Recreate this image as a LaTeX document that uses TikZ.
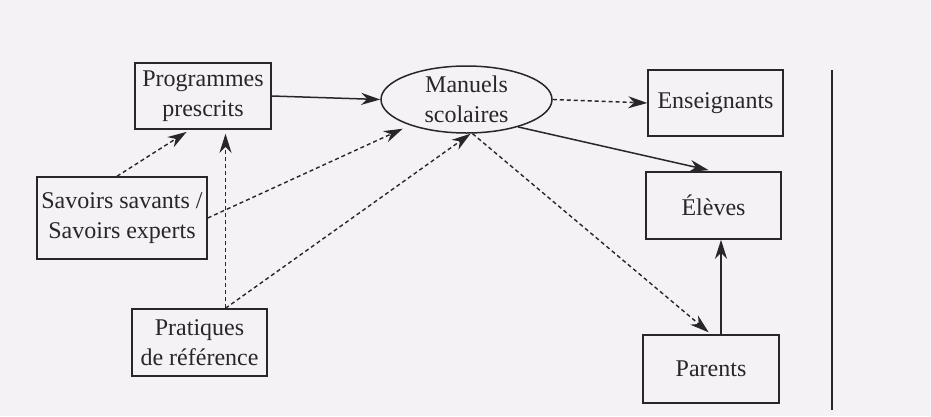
\documentclass[tikz,border=0pt]{standalone}
\usepackage{fontspec}
\setmainfont{Liberation Serif}
\usetikzlibrary{arrows.meta,shapes.geometric,calc}
\definecolor{paper}{RGB}{244,242,245}
\definecolor{ink}{RGB}{40,38,42}
\tikzset{
  boxnode/.style={draw=ink, line width=1.5pt, rectangle, align=center, inner sep=0pt,
    text=ink, font=\fontsize{24}{30}\selectfont},
  ellnode/.style={draw=ink, line width=1.5pt, ellipse, align=center, inner sep=0pt,
    text=ink, font=\fontsize{24}{30}\selectfont},
  solidarrow/.style={draw=ink, line width=1.5pt, -{Stealth[length=19pt,width=12pt,inset=6pt]}},
  dasharrow/.style={draw=ink, line width=1.4pt, dash pattern=on 4pt off 3pt,
    -{Stealth[length=19pt,width=12pt,inset=6pt]}},
}
\begin{document}
\begin{tikzpicture}[x=1pt,y=-1pt]
\fill[paper] (0,0) rectangle (931,416);
\useasboundingbox (0,0) rectangle (931,416);

\node[boxnode, minimum width=136pt, minimum height=66pt] (prog) at (203,96) {Programmes\\prescrits};
\node[boxnode, minimum width=170pt, minimum height=82pt] (sav) at (122,218) {Savoirs savants /\\Savoirs experts};
\node[boxnode, minimum width=135pt, minimum height=67pt] (prat) at (199.5,342.5) {Pratiques\\de référence};
\node[ellnode, minimum width=171pt, minimum height=67pt] (man) at (466.5,99.5) {Manuels\\scolaires};
\node[boxnode, minimum width=135pt, minimum height=66pt] (ens) at (715.5,103) {Enseignants};
\node[boxnode, minimum width=135pt, minimum height=67pt] (elev) at (713.5,205.5) {Élèves};
\node[boxnode, minimum width=136pt, minimum height=68pt] (par) at (711,369) {Parents};

\coordinate (vt) at (832,70);
\coordinate (vb) at (832,410);
\draw[ink, line width=1.3pt] (vt) -- (vb);

% solid arrows
\draw[solidarrow] (prog.east) -- (man.west);
\draw[solidarrow, shorten >=5pt] (man.-28) -- (elev.north);
\draw[solidarrow] ([xshift=10pt]par.north) -- ([xshift=10pt]par.north |- elev.south);

% dashed arrows
\draw[dasharrow] (man.east) -- (ens.west);
\draw[dasharrow, shorten >=3pt] (man.-80) -- (par.north);
\draw[dasharrow, shorten >=4pt] ([xshift=-5pt]sav.north) -- ([xshift=-13pt]prog.south);
\draw[dasharrow, shorten >=8pt] (sav.east) -- (man);
\draw[dasharrow, shorten >=4pt] ([xshift=26pt]prat.north) -- ([xshift=26pt]prat.north |- prog.south);
\draw[dasharrow] ([xshift=26pt]prat.north) -- ([xshift=4pt]man.south);
\end{tikzpicture}
\end{document}
